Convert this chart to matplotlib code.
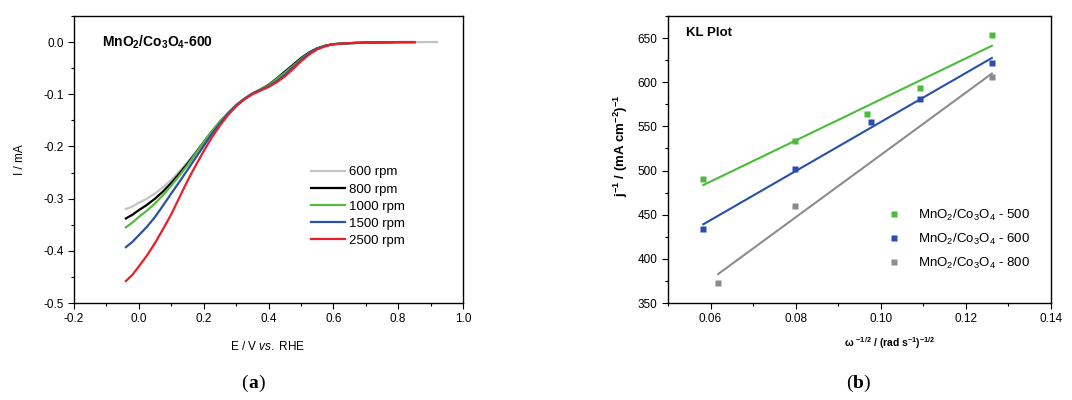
import numpy as np
import matplotlib
matplotlib.use("Agg")
import matplotlib.pyplot as plt
from matplotlib.ticker import MultipleLocator

plt.rcParams['font.family'] = ['Liberation Sans', 'DejaVu Sans']
plt.rcParams['mathtext.fontset'] = 'custom'
plt.rcParams['mathtext.rm'] = 'Liberation Sans'
plt.rcParams['mathtext.it'] = 'Liberation Sans:italic'
plt.rcParams['mathtext.bf'] = 'Liberation Sans:bold'

# ---------------- (a) LSV data ----------------
E = [-0.04, -0.02, 0.0, 0.025, 0.05, 0.075, 0.1, 0.125, 0.15, 0.175, 0.2, 0.225,
     0.25, 0.275, 0.3, 0.325, 0.35, 0.375, 0.4, 0.425, 0.45, 0.475, 0.5, 0.525,
     0.55, 0.575, 0.6, 0.65, 0.7, 0.8, 0.85]
E_600 = E + [0.92]

I_600 = [-0.320, -0.315, -0.308, -0.300, -0.290, -0.278, -0.264, -0.248, -0.230, -0.211,
         -0.191, -0.171, -0.153, -0.136, -0.121, -0.109, -0.099, -0.091, -0.082, -0.070,
         -0.057, -0.044, -0.031, -0.020, -0.012, -0.007, -0.004, -0.002, -0.001, 0.0, 0.0, 0.0]
I_800 = [-0.338, -0.331, -0.322, -0.312, -0.300, -0.286, -0.270, -0.252, -0.233, -0.213,
         -0.192, -0.172, -0.153, -0.136, -0.121, -0.109, -0.099, -0.091, -0.082, -0.070,
         -0.057, -0.044, -0.031, -0.020, -0.012, -0.007, -0.004, -0.002, -0.001, 0.0, 0.0]
I_1000 = [-0.355, -0.346, -0.335, -0.323, -0.309, -0.293, -0.275, -0.256, -0.236, -0.214,
          -0.192, -0.171, -0.152, -0.136, -0.121, -0.109, -0.099, -0.091, -0.083, -0.071,
          -0.059, -0.046, -0.033, -0.021, -0.013, -0.007, -0.004, -0.002, -0.001, 0.0, 0.0]
I_1500 = [-0.393, -0.383, -0.370, -0.354, -0.335, -0.313, -0.290, -0.268, -0.245, -0.222,
          -0.199, -0.176, -0.156, -0.138, -0.122, -0.109, -0.099, -0.092, -0.085, -0.075,
          -0.063, -0.049, -0.035, -0.022, -0.013, -0.007, -0.004, -0.002, -0.001, 0.0, 0.0]
I_2500 = [-0.458, -0.446, -0.430, -0.409, -0.385, -0.358, -0.330, -0.298, -0.266, -0.237,
          -0.209, -0.183, -0.160, -0.140, -0.123, -0.110, -0.100, -0.093, -0.086, -0.077,
          -0.066, -0.052, -0.037, -0.024, -0.014, -0.008, -0.004, -0.002, -0.001, 0.0, 0.0]

rpm_labels = ['600 rpm', '800 rpm', '1000 rpm', '1500 rpm', '2500 rpm']
lsv_colors = ['#c4c4c4', '#000000', '#55bb3f', '#2c50a6', '#e8202a']

# ---------------- (b) KL data ----------------
kl_x_500 = [0.0583, 0.0798, 0.0967, 0.1091, 0.1261]
kl_y_500 = [490, 533, 564, 593, 653]
kl_x_600 = [0.0583, 0.0798, 0.0976, 0.1091, 0.1261]
kl_y_600 = [434, 502, 555, 581, 622]
kl_x_800 = [0.0618, 0.0798, 0.1261]
kl_y_800 = [373, 460, 606]
kl_labels = [r'MnO$_2$/Co$_3$O$_4$ - 500', r'MnO$_2$/Co$_3$O$_4$ - 600',
             r'MnO$_2$/Co$_3$O$_4$ - 800']
kl_colors = ['#4cbb3c', '#2a4fa8', '#8c8c8c']

fig = plt.figure(figsize=(10.72, 4.0), dpi=100)

def style_axes(ax):
    ax.tick_params(which='both', direction='out', top=False, right=False,
                   labelsize=8.5, width=0.8)
    ax.tick_params(which='major', length=4)
    ax.tick_params(which='minor', length=2.5)
    for s in ax.spines.values():
        s.set_linewidth(1.0)

# (a)
ax1 = fig.add_axes([74/1072, 1-303/400, 389/1072, 287/400])
curves = [(E_600, I_600), (E, I_800), (E, I_1000), (E, I_1500), (E, I_2500)]
for (xx, yy), c, lab in zip(curves, lsv_colors, rpm_labels):
    ax1.plot(xx, yy, color=c, lw=1.6, label=lab)
ax1.set_xlim(-0.2, 1.0)
ax1.set_ylim(-0.5, 0.05)
ax1.xaxis.set_minor_locator(MultipleLocator(0.1))
ax1.yaxis.set_minor_locator(MultipleLocator(0.05))
ax1.set_xticks([-0.2, 0.0, 0.2, 0.4, 0.6, 0.8, 1.0])
ax1.set_xticklabels(['-0.2', '0.0', '0.2', '0.4', '0.6', '0.8', '1.0'])
ax1.set_yticks([-0.5, -0.4, -0.3, -0.2, -0.1, 0.0])
ax1.set_yticklabels(['-0.5', '-0.4', '-0.3', '-0.2', '-0.1', '0.0'])
style_axes(ax1)
ax1.text(0.072, 0.909, r'MnO$_\mathbf{2}$/Co$_\mathbf{3}$O$_\mathbf{4}$-600', transform=ax1.transAxes,
         fontsize=10, fontweight='bold', va='center', ha='left')
ax1.legend(loc='upper left', bbox_to_anchor=(0.595, 0.495), frameon=False, fontsize=9.5,
           handlelength=2.6, handletextpad=0.3, labelspacing=0.37, borderaxespad=0)
fig.text(268/1072, 1-346/400, r'E / V $\it{vs.}$ RHE', ha='center', va='center', fontsize=8.5)
fig.text(20/1072, 1-160/400, 'I / mA', ha='center', va='center', rotation=90, fontsize=8.5)

# (b)
ax2 = fig.add_axes([668/1072, 1-303/400, 383/1072, 287/400])
for xs, ys, c, lab in zip([kl_x_500, kl_x_600, kl_x_800], [kl_y_500, kl_y_600, kl_y_800],
                          kl_colors, kl_labels):
    xs = np.asarray(xs); ys = np.asarray(ys)
    p = np.polyfit(xs, ys, 1)
    ax2.plot([xs.min(), xs.max()], np.polyval(p, [xs.min(), xs.max()]), color=c, lw=1.5)
    ax2.plot(xs, ys, 's', color=c, ms=4.5, mec='none', label=lab)
ax2.set_xlim(0.05, 0.14)
ax2.set_ylim(350, 675)
ax2.xaxis.set_minor_locator(MultipleLocator(0.01))
ax2.yaxis.set_major_locator(MultipleLocator(50))
ax2.yaxis.set_minor_locator(MultipleLocator(25))
ax2.set_xticks([0.06, 0.08, 0.10, 0.12, 0.14])
ax2.set_xticklabels(['0.06', '0.08', '0.10', '0.12', '0.14'])
style_axes(ax2)
ax2.text(0.047, 0.94, 'KL Plot', transform=ax2.transAxes, fontsize=9.5,
         fontweight='bold', va='center', ha='left')
ax2.legend(loc='upper left', bbox_to_anchor=(0.56, 0.35), frameon=False, fontsize=9.5,
           handlelength=1.0, handletextpad=1.3, labelspacing=0.66, borderaxespad=0,
           markerscale=1.0)
fig.text(621/1072, 1-146/400, r'$\mathbf{j^{-1}}$ / (mA cm$^{\mathbf{-2}}$)$^{\mathbf{-1}}$',
         ha='center', va='center', rotation=90, fontsize=9.5, fontweight='bold')
fig.text(890/1072, 1-343/400, r'$\mathbf{\omega}$ $^{\mathbf{-1/2}}$ / (rad s$^{\mathbf{-1}}$)$^{\mathbf{-1/2}}$',
         ha='center', va='center', fontsize=7.5, fontweight='bold')

# panel tags: normal parentheses, bold letter
serif = ['Liberation Serif', 'DejaVu Serif']
for cx, letter in [(253, 'a'), (858, 'b')]:
    fig.text(cx/1072, 1-383/400, letter, ha='center', va='center', fontsize=14,
             fontweight='bold', family=serif)
    fig.text(cx/1072 - 0.0053, 1-383/400, '(', ha='right', va='center', fontsize=14,
             family=serif)
    fig.text(cx/1072 + 0.0053, 1-383/400, ')', ha='left', va='center', fontsize=14,
             family=serif)

fig.savefig('out.png', dpi=100, facecolor='white')
